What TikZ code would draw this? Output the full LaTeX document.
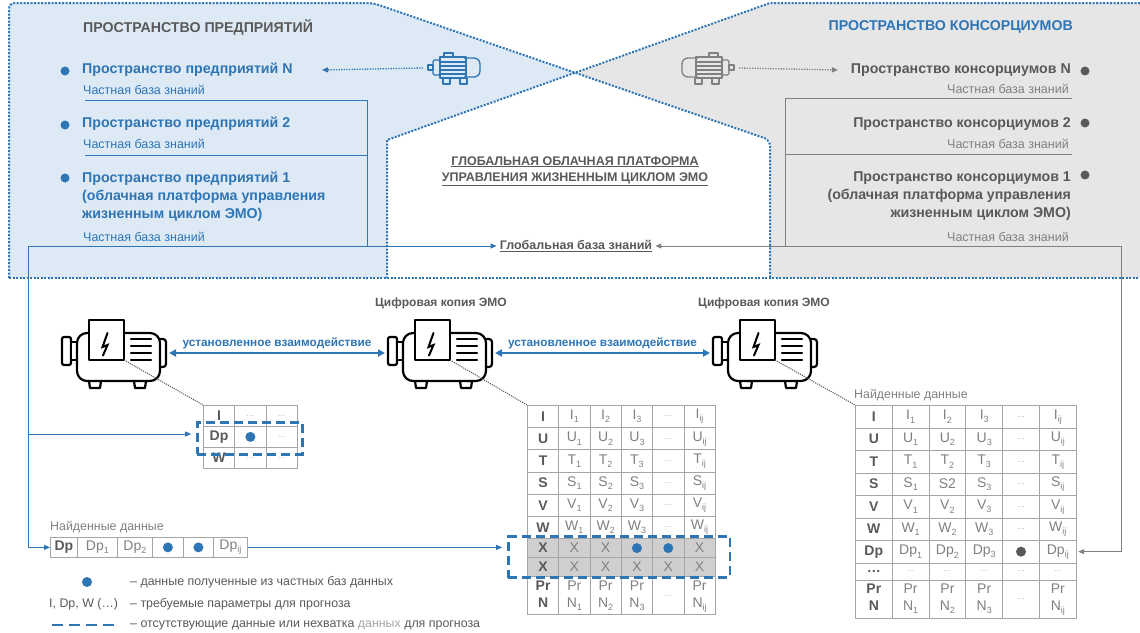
\documentclass[tikz,border=0pt]{standalone}
\usepackage{fontspec}
\setmainfont{Liberation Sans}
\usetikzlibrary{arrows.meta,calc,fit,matrix}

\definecolor{cblue}{RGB}{46,117,182}
\definecolor{cbluefill}{RGB}{221,234,246}
\definecolor{cgrayfill}{RGB}{231,230,230}
\definecolor{cdark}{RGB}{89,89,89}
\definecolor{cmid}{RGB}{128,128,128}
\definecolor{cgrid}{RGB}{165,165,165}
\definecolor{ccell}{RGB}{208,206,206}
\definecolor{clight}{RGB}{165,165,165}

\newcommand{\fsz}[2]{\fontsize{#1}{#2}\selectfont}
\newcommand{\subx}[1]{\raisebox{-0.22em}{\fontsize{9}{9}\selectfont #1}}
\newcommand{\celldots}{{\fontsize{8}{8}\selectfont\color{clight}…}}
% two-line "Pr / N" cell
\newcommand{\prn}[1]{\begin{tabular}{@{}c@{}}Pr\\N#1\end{tabular}}

\tikzset{
  % large line-art motor (digital copy)
  bigmotor/.pic={
    \begin{scope}[line width=2.2pt, line join=round, line cap=round]
      \draw[fill=white, rounded corners=2pt] (-52,-17) rectangle (-43,11);
      \draw[fill=white] (-43,-12) rectangle (-37,6);
      \draw[fill=white, rounded corners=3pt] (44,-15) -- (52,-15) -- (52,13) -- (44,13);
      \draw[fill=white, rounded corners=10pt] (-37,-21) rectangle (46,27);
      \draw[fill=white] (-25,-34) rectangle (10,6);
      \draw[line width=2pt, line join=miter] (-6.5,-21) -- (-11.5,-7) -- (-6.5,-9) -- (-11,1.5);
      \foreach \fy in {-15,-8,-1,6} \draw (17,\fy) -- (37,\fy);
      \draw (-25,27) -- (-24,34) -- (-14,34) -- (-13,27);
      \draw (20,27) -- (21,34) -- (31,34) -- (32,27);
    \end{scope}
    \coordinate (-tb) at (10,6);
    \coordinate (-l) at (-55,-1);
    \coordinate (-r) at (55,-1);
  },
  % small motor icon in the header
  smallmotor/.pic={
    \begin{scope}[line width=1.3pt, line join=round]
      \draw (-26,-3) rectangle (-21,2);
      \draw[rounded corners=1.5pt] (-21,-8) rectangle (-14,7);
      \draw[rounded corners=6pt] (10,-10) -- (26,-10) -- (26,9) -- (10,9);
      \draw (-14,-11) rectangle (12,10);
      \foreach \fy in {-6,-2,2,6} \draw (-14,\fy) -- (12,\fy);
      \draw (-10,-11) -- (-10,-15) -- (-1,-15) -- (-1,-11);
      \draw (-11,10) -- (-11,16) -- (-4,16) -- (-4,10);
      \draw (6,10) -- (6,16) -- (13,16) -- (13,10);
    \end{scope}
    \coordinate (-l) at (-31,0);
  }
}

\begin{document}
\begin{tikzpicture}[x=1pt, y=-1pt,
  zoneline/.style={draw=cblue, line width=2pt, dash pattern=on 2pt off 1.5pt},
  itemtext/.style={font=\fsz{14.2}{18}\bfseries, inner sep=0pt},
  kbtext/.style={font=\fsz{12.5}{14}, inner sep=0pt},
  dotbullet/.style={circle, inner sep=0pt, minimum size=9pt},
  bline/.style={draw=cblue, line width=0.9pt},
  gline/.style={draw=cmid, line width=0.9pt},
  arrowtip/.style={-{Triangle[length=6pt,width=5pt]}},
  dotlink/.style={line width=1.3pt, dash pattern=on 1.3pt off 1.3pt},
  motorlink/.style={draw=cdark, line width=1.1pt, dash pattern=on 1.1pt off 1.1pt},
  dashbox/.style={draw=cblue, line width=2.4pt, dash pattern=on 9pt off 5pt},
  iarrow/.style={draw=cblue, line width=2pt,
    {Triangle[length=7pt,width=7pt]}-{Triangle[length=7pt,width=7pt]}},
  ilabel/.style={above, inner sep=3.5pt, font=\fsz{11.8}{13}\bfseries, text=cblue},
  bdot/.style={circle, fill=cblue, inner sep=0pt, minimum size=10pt},
  legtext/.style={font=\fsz{12.4}{14}, text=cdark, inner sep=0pt},
  tbl/.style={matrix of nodes, nodes in empty cells, inner sep=0pt, outer sep=0pt,
    column sep=-0.8pt, row sep=-0.8pt,
    nodes={draw=cgrid, line width=0.8pt, inner sep=0pt, outer sep=0pt, anchor=center,
      font=\fsz{14}{17}, text=cmid},
    column 1/.style={nodes={font=\fsz{14}{17}\bfseries, text=cdark}}},
]
\useasboundingbox (0,0) rectangle (1140,632);

% ---------- spaces ----------
\fill[cbluefill] (9,3) -- (373,3) -- (575,72.7) -- (387,140) -- (387,278) -- (9,278) -- cycle;
\fill[cgrayfill] (770,3) -- (1140,3) -- (1140,278) -- (770,278) -- (770,140) -- (575,72.7) -- cycle;
\draw[zoneline] (1140,3) -- (770,3) -- (387,140) -- (387,278);
\draw[zoneline, rounded corners=6pt] (9,278) -- (9,3) -- (373,3) -- (770,140) -- (770,278);
\draw[zoneline] (9,278) -- (1140,278);

% ---------- enterprise space ----------
\node[itemtext, text=cdark, anchor=west] (lt) at (83,27) {ПРОСТРАНСТВО ПРЕДПРИЯТИЙ};
\node[dotbullet, fill=cblue] (lbN) at (65,71) {};
\node[itemtext, text=cblue, anchor=west] (eN) at (82,70) {Пространство предприятий N};
\node[kbtext, text=cblue, anchor=west] (ekN) at (83,90) {Частная база знаний};
\node[dotbullet, fill=cblue] (lb2) at (65,125) {};
\node[itemtext, text=cblue, anchor=west] (e2) at (82,124) {Пространство предприятий 2};
\node[kbtext, text=cblue, anchor=west] (ek2) at (83,144) {Частная база знаний};
\node[dotbullet, fill=cblue] (lb1) at (65,178) {};
\node[itemtext, text=cblue, anchor=north west, align=left] (e1) at (82,172)
  {Пространство предприятий 1\\(облачная платформа управления\\жизненным циклом ЭМО)};
\node[kbtext, text=cblue, anchor=west] (ek1) at (83,237) {Частная база знаний};
\draw[bline] (85,100) -- (367,100);
\draw[bline] (85,155) -- (367,155);
\draw[bline] (367,100) -- (367,246);

% ---------- consortium space ----------
\node[itemtext, text=cblue, anchor=east] (ct) at (1073,27) {ПРОСТРАНСТВО КОНСОРЦИУМОВ};
\node[dotbullet, fill=cdark] (rbN) at (1085,71) {};
\node[itemtext, text=cdark, anchor=east] (cN) at (1071,70) {Пространство консорциумов N};
\node[kbtext, text=cmid, anchor=east] (ckN) at (1069,89) {Частная база знаний};
\node[dotbullet, fill=cdark] (rb2) at (1085,123) {};
\node[itemtext, text=cdark, anchor=east] (c2) at (1071,124) {Пространство консорциумов 2};
\node[kbtext, text=cmid, anchor=east] (ck2) at (1069,144) {Частная база знаний};
\node[dotbullet, fill=cdark] (rb1) at (1085,175) {};
\node[itemtext, text=cdark, anchor=north east, align=right] (c1) at (1071,172)
  {Пространство консорциумов 1\\(облачная платформа управления\\жизненным циклом ЭМО)};
\node[kbtext, text=cmid, anchor=east] (ck1) at (1069,237) {Частная база знаний};
\draw[gline] (1072,98) -- (785,98) -- (785,246);
\draw[gline] (785,154) -- (1072,154);

% ---------- header motors ----------
\pic[color=cblue] (sb) at (454,68) {smallmotor};
\pic[color=cmid, xscale=-1] (sg) at (708,68) {smallmotor};
\coordinate (tipN) at (322,70);
\coordinate (tipC) at (838,70);
\draw[cblue, dotlink, arrowtip] (sb-l) -- (tipN);
\draw[cmid, dotlink, arrowtip] (sg-l) -- (tipC);

% ---------- global platform ----------
\node[font=\fsz{12.5}{16}\bfseries, text=cdark, align=center] (gt) at (575,171)
  {\underline{ГЛОБАЛЬНАЯ ОБЛАЧНАЯ ПЛАТФОРМА}\\\underline{УПРАВЛЕНИЯ ЖИЗНЕННЫМ ЦИКЛОМ ЭМО}};
\node[font=\fsz{12.5}{14}\bfseries, text=cdark, inner xsep=3pt, inner ysep=2pt] (gkb) at (576,246)
  {\underline{Глобальная база знаний}};
\coordinate (j0) at (28,246);
\coordinate (r0) at (1121,246);
\draw[bline, arrowtip] (j0) -- (gkb.west);
\draw[gline, arrowtip] (r0) -- (gkb.east);

% ---------- digital copies ----------
\pic (m1) at (114,354) {bigmotor};
\pic (m2) at (440,354) {bigmotor};
\pic (m3) at (765,354) {bigmotor};
\node[font=\fsz{12}{14}\bfseries, text=cdark] (d2) at (441,303) {Цифровая копия ЭМО};
\node[font=\fsz{12}{14}\bfseries, text=cdark] (d3) at (764,303) {Цифровая копия ЭМО};
\draw[iarrow] (m1-r) -- node[ilabel] (i1) {установленное взаимодействие} (m2-l);
\draw[iarrow] (m2-r) -- node[ilabel] (i2) {установленное взаимодействие} (m3-l);

% small table of the first copy
\matrix[tbl, anchor=north west, nodes={minimum width=31.3, minimum height=21}] (ts) at (203,405) {
  I  & \celldots & \celldots \\
  Dp &           & \celldots \\
  W  & \celldots & \celldots \\
};
\node[bdot] (ts-dot) at (ts-2-2) {};
\coordinate (ds1) at ($(ts-2-1.north west)+(-6,-4)$);
\coordinate (ds2) at ($(ts-2-3.south east)+(5,7)$);
\node[dashbox, fit=(ds1)(ds2), inner sep=0pt] (ds) {};

% table of the second copy
\matrix[tbl, anchor=north west, nodes={minimum width=31.3, minimum height=22.2},
  row 7/.style={nodes={minimum height=19, fill=ccell}},
  row 8/.style={nodes={minimum height=19, fill=ccell}},
  row 9/.style={nodes={minimum height=38}}] (tm) at (527,405) {
  I & I\subx{1} & I\subx{2} & I\subx{3} & \celldots & I\subx{ij} \\
  U & U\subx{1} & U\subx{2} & U\subx{3} & \celldots & U\subx{ij} \\
  T & T\subx{1} & T\subx{2} & T\subx{3} & \celldots & T\subx{ij} \\
  S & S\subx{1} & S\subx{2} & S\subx{3} & \celldots & S\subx{ij} \\
  V & V\subx{1} & V\subx{2} & V\subx{3} & \celldots & V\subx{ij} \\
  W & W\subx{1} & W\subx{2} & W\subx{3} & \celldots & W\subx{ij} \\
  X & X & X &   &   & X \\
  X & X & X & X & X & X \\
  \prn{} & \prn{\subx{1}} & \prn{\subx{2}} & \prn{\subx{3}} & \celldots & \prn{\subx{ij}} \\
};
\node[bdot] (tm-dot4) at (tm-7-4) {};
\node[bdot] (tm-dot5) at (tm-7-5) {};
\coordinate (dm1) at ($(tm-7-1.north west)+(-19,-2)$);
\coordinate (dm2) at ($(tm-8-6.south east)+(15,1)$);
\node[dashbox, fit=(dm1)(dm2), inner sep=0pt] (dm) {};

% table of the third copy
\node[font=\fsz{12.4}{15}, text=cmid, anchor=west, inner sep=0pt] (fr) at (854,395) {Найденные данные};
\matrix[tbl, anchor=north west, nodes={minimum width=36.8, minimum height=22.5},
  row 8/.style={nodes={minimum height=17}},
  row 9/.style={nodes={minimum height=38}}] (tr) at (855,405) {
  I & I\subx{1} & I\subx{2} & I\subx{3} & \celldots & I\subx{ij} \\
  U & U\subx{1} & U\subx{2} & U\subx{3} & \celldots & U\subx{ij} \\
  T & T\subx{1} & T\subx{2} & T\subx{3} & \celldots & T\subx{ij} \\
  S & S\subx{1} & S2 & S\subx{3} & \celldots & S\subx{ij} \\
  V & V\subx{1} & V\subx{2} & V\subx{3} & \celldots & V\subx{ij} \\
  W & W\subx{1} & W\subx{2} & W\subx{3} & \celldots & W\subx{ij} \\
  Dp & Dp\subx{1} & Dp\subx{2} & Dp\subx{3} &  & Dp\subx{ij} \\
  … & \celldots & \celldots & \celldots & \celldots & \celldots \\
  \prn{} & \prn{\subx{1}} & \prn{\subx{2}} & \prn{\subx{3}} & \celldots & \prn{\subx{ij}} \\
};
\node[bdot, fill=cdark] (tr-dot) at (tr-7-5) {};

% found data row
\node[font=\fsz{12.4}{15}, text=cmid, anchor=west, inner sep=0pt] (fb) at (50,527) {Найденные данные};
\matrix[tbl, anchor=north west, nodes={minimum height=20},
  column 1/.append style={nodes={minimum width=27}},
  column 2/.style={nodes={minimum width=40}},
  column 3/.style={nodes={minimum width=35}},
  column 4/.style={nodes={minimum width=31}},
  column 5/.style={nodes={minimum width=30}},
  column 6/.style={nodes={minimum width=34}}] (tb) at (50,537) {
  Dp & Dp\subx{1} & Dp\subx{2} & & & Dp\subx{ij} \\
};
\node[bdot] (tb-dot4) at (tb-1-4) {};
\node[bdot] (tb-dot5) at (tb-1-5) {};

% ---------- links ----------
\draw[motorlink] (m1-tb) -- (ts.north west);
\draw[motorlink] (m2-tb) -- (tm.north west);
\draw[motorlink] (m3-tb) -- (tr.north west);
\coordinate (j1) at (28,434);
\draw[bline, arrowtip] (j0) |- (tb.west);
\draw[bline, arrowtip, shorten >=5pt] (j1) -- (j1 -| ds.west);
\draw[bline, arrowtip, shorten >=5pt] (tb.east) -- (tb.east -| dm.west);
\draw[gline, arrowtip, shorten >=2pt] (r0) |- (tr-7-6.east);

% ---------- legend ----------
\node[bdot] (lg1) at (87,582) {};
\node[legtext, anchor=west] (lt1) at (130,582) {– данные полученные из частных баз данных};
\node[legtext, anchor=west] (lk2) at (49,604) {I, Dp, W (…)};
\node[legtext, anchor=west] (lt2) at (130,604) {– требуемые параметры для прогноза};
\draw[dashbox, dash pattern=on 11pt off 6pt] (52,625) -- (120,625);
\node[legtext, anchor=west] (lt3) at (130,625)
  {– отсутствующие данные или нехватка \textcolor{clight}{данных} для прогноза};
\end{tikzpicture}
\end{document}
